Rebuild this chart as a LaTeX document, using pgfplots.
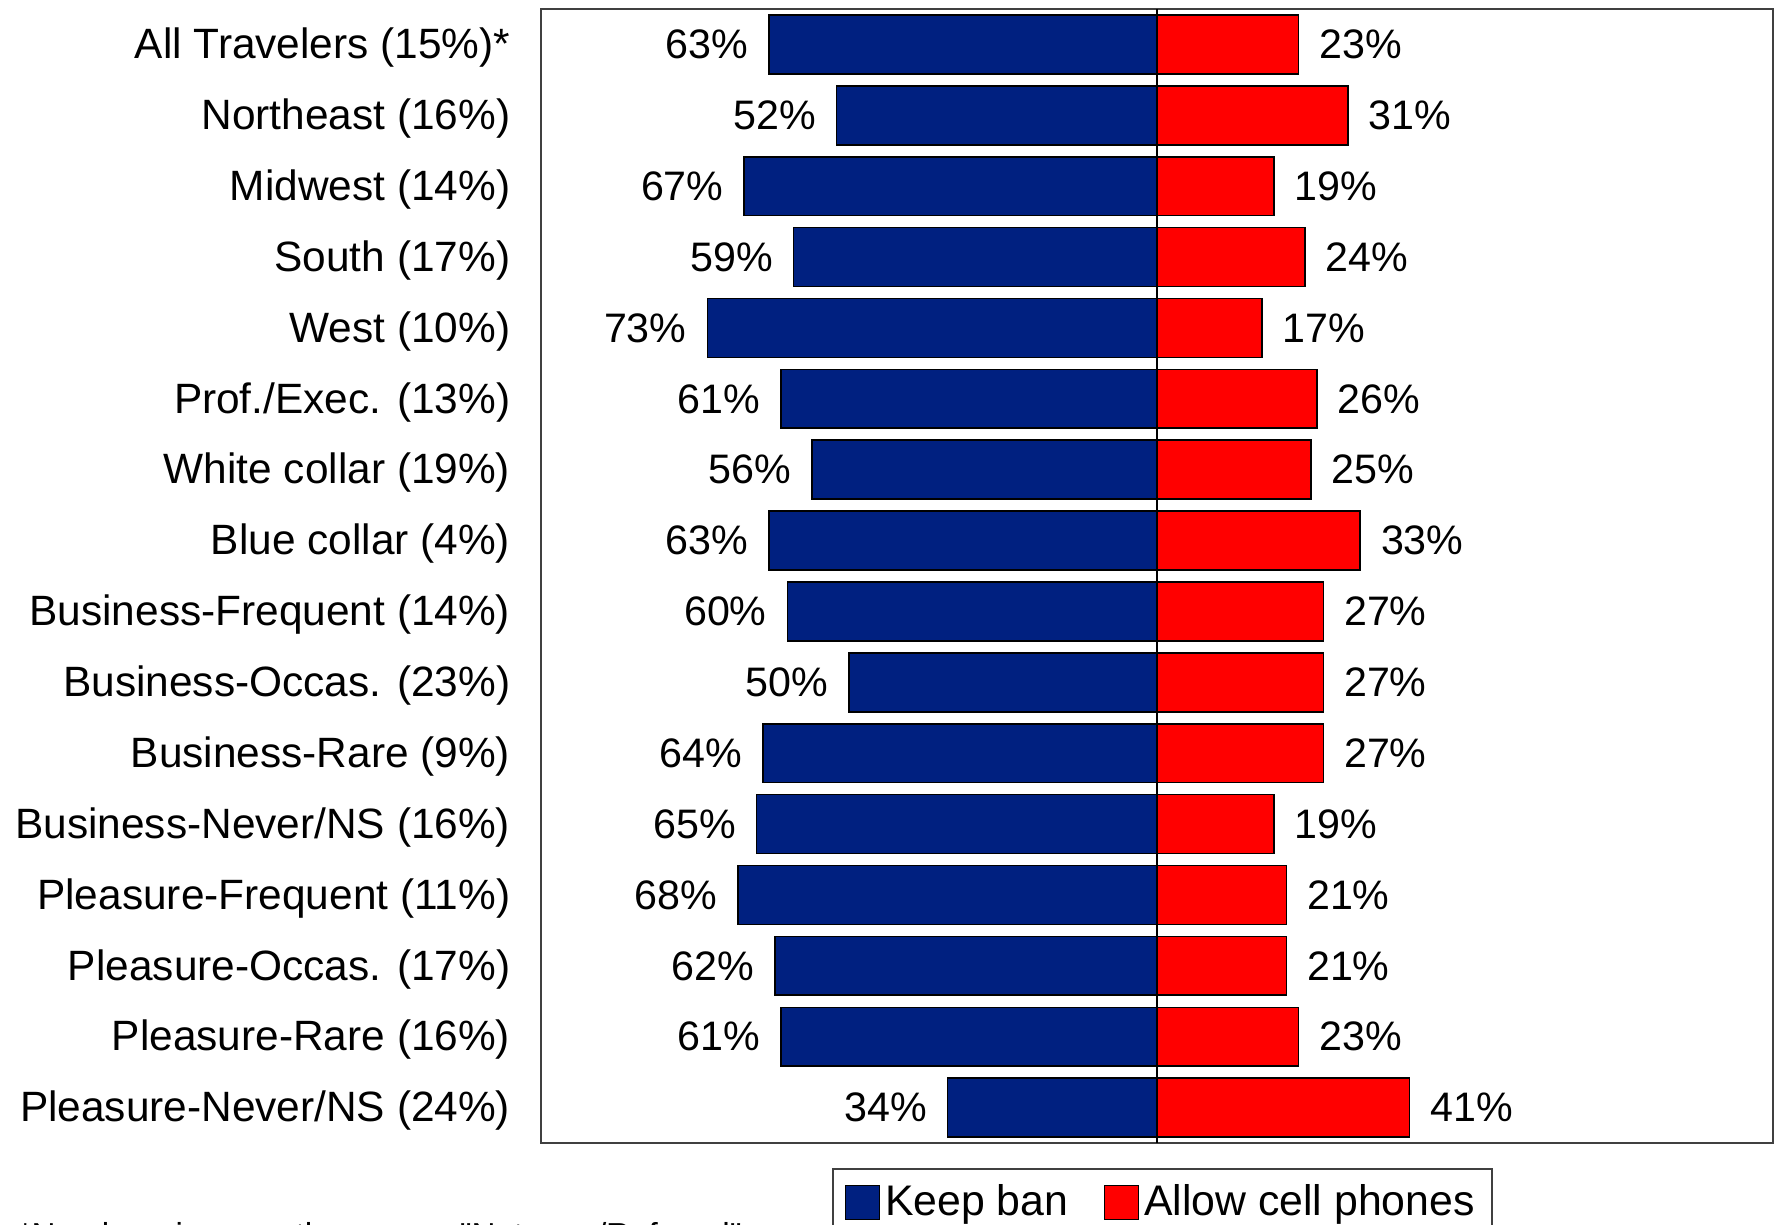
\documentclass[border=0pt]{standalone}
\usepackage{fontspec}
\setmainfont{Liberation Sans}
\newfontfamily\plainfont{Liberation Sans}
\usepackage{pgfplots}
\pgfplotsset{compat=1.18}
\definecolor{keepban}{RGB}{0,32,128}
\definecolor{allowcell}{RGB}{255,0,0}

\begin{document}
\begin{tikzpicture}
  \useasboundingbox (0,0) rectangle (443.75pt,306pt);
  \clip (0,0) rectangle (443.75pt,306pt);
  \begin{axis}[
    at={(135.25pt,20.25pt)}, anchor=south west,
    scale only axis,
    width=308pt, height=283.5pt,
    xbar, bar width=0.83, bar shift=0,
    xmin=-100, xmax=100,
    ymin=0.5, ymax=16.5,
    y dir=reverse,
    xtick=\empty,
    ytick={1,...,16},
    yticklabels={All Travelers (15\%)*, Northeast (16\%), Midwest (14\%),
      South (17\%), West (10\%), Prof./Exec. (13\%), White collar (19\%),
      Blue collar (4\%), Business-Frequent (14\%), Business-Occas. (23\%),
      Business-Rare (9\%), Business-Never/NS (16\%), Pleasure-Frequent (11\%),
      Pleasure-Occas. (17\%), Pleasure-Rare (16\%), Pleasure-Never/NS (24\%)},
    major tick length=0pt,
    yticklabel style={font=\fontsize{10.6}{12}\selectfont, anchor=east,
      inner sep=0pt, xshift=-7.5pt, yshift=-0.8pt},
    axis line style={draw=black!75, line width=0.6pt},
    point meta=explicit symbolic,
    nodes near coords={\pgfplotspointmeta\%},
    every node near coord/.append style={font=\fontsize{10.3}{12}\selectfont,
      text=black, inner xsep=5pt, inner ysep=0pt},
    legend columns=2,
    legend style={at={(0.236,0)}, anchor=north west, yshift=-6.25pt,
      draw=black!75, line width=0.5pt, inner xsep=3pt, inner ysep=1.75pt,
      font=\fontsize{10.7}{12}\selectfont,
      nodes={inner xsep=1.3pt},
      /tikz/every even column/.append style={column sep=7.5pt}},
    legend image code/.code={
      \draw[#1, draw=black, line width=0.3pt] (0pt,-4.25pt) rectangle (8.5pt,4.25pt);},
  ]
    \addplot[fill=keepban, draw=black, line width=0.4pt,
      every node near coord/.append style={anchor=east}] coordinates {
      (-63,1) [63] (-52,2) [52] (-67,3) [67] (-59,4) [59]
      (-73,5) [73] (-61,6) [61] (-56,7) [56] (-63,8) [63]
      (-60,9) [60] (-50,10) [50] (-64,11) [64] (-65,12) [65]
      (-68,13) [68] (-62,14) [62] (-61,15) [61] (-34,16) [34]
    };
    \addlegendentry{Keep ban}
    \addplot[fill=allowcell, draw=black, line width=0.4pt,
      every node near coord/.append style={anchor=west}] coordinates {
      (23,1) [23] (31,2) [31] (19,3) [19] (24,4) [24]
      (17,5) [17] (26,6) [26] (25,7) [25] (33,8) [33]
      (27,9) [27] (27,10) [27] (27,11) [27] (19,12) [19]
      (21,13) [21] (21,14) [21] (23,15) [23] (41,16) [41]
    };
    \addlegendentry{Allow cell phones}
    \draw[black, line width=0.6pt] (axis cs:0,0.5) -- (axis cs:0,16.5);
  \end{axis}
  \node[anchor=base west, inner sep=0pt, font=\plainfont\fontsize{8.3}{10}\selectfont]
    at (4.5pt,-5.5pt) {*Numbers in parentheses are "Not sure/Refused"};
\end{tikzpicture}
\end{document}
